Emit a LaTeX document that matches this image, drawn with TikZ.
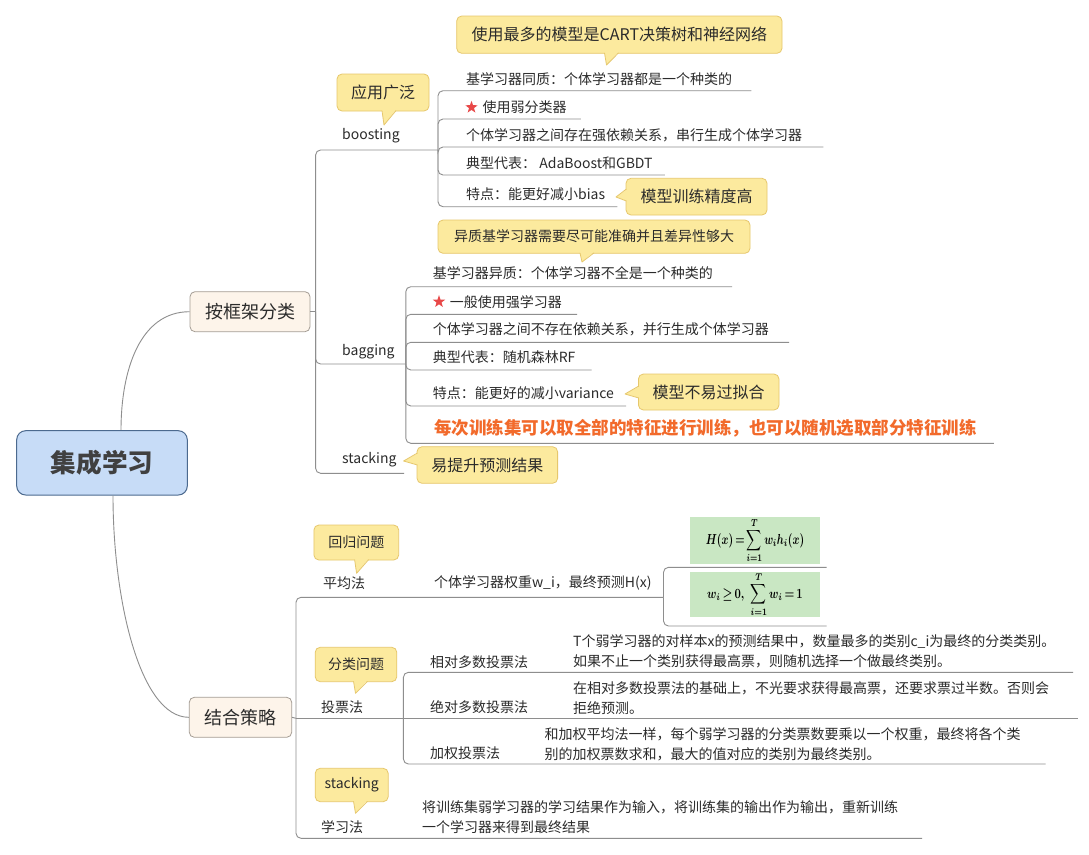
\documentclass[tikz,border=0pt]{standalone}
\usepackage{graphicx}
\usepackage{fontspec}
\setmainfont{Noto Sans CJK SC}
\usetikzlibrary{shapes.geometric}
\definecolor{linegray}{HTML}{8E8E8E}
\definecolor{textc}{HTML}{2B2B2B}
\definecolor{callfill}{HTML}{FCEA9E}
\definecolor{callborder}{HTML}{E6C76C}
\definecolor{beigefill}{HTML}{FDF4EA}
\definecolor{beigeborder}{HTML}{A59D94}
\definecolor{rootfill}{HTML}{C7DCF7}
\definecolor{rootborder}{HTML}{4C6A8F}
\definecolor{greenfill}{HTML}{C9E7C3}
\definecolor{redtext}{HTML}{F26A2B}
\definecolor{starred}{HTML}{E84848}
\newcommand\ptrdown[3]{%
  \fill[callfill] (#1-2,#2-1.5) -- (#1,#3) -- (#1+12,#2-1.5) -- cycle;
  \draw[callborder,line width=0.8pt,line join=round] (#1-2,#2-0.4) -- (#1,#3) -- (#1+12,#2-0.4);}
\newcommand\ptrleft[3]{%
  \fill[callfill] (#1+1.5,#3-8) -- (#2,#3) -- (#1+1.5,#3+4) -- cycle;
  \draw[callborder,line width=0.8pt,line join=round] (#1+0.4,#3-8) -- (#2,#3) -- (#1+0.4,#3+4);}
\newsavebox\myformA
\newsavebox\myformB
\begin{document}
\sbox\myformA{\scalebox{1.05}[1.45]{\boldmath\fontsize{10}{12}\selectfont\boldmath\thickmuskip=3mu$\displaystyle H(x)=\sum_{i=1}^{T} w_i h_i(x)$}}%
\sbox\myformB{\scalebox{1.1}[1.4]{\boldmath\fontsize{10}{12}\selectfont\boldmath\thickmuskip=3mu$\displaystyle w_i\geq 0,\;\; \sum_{i=1}^{T} w_i=1$}}%
\begin{tikzpicture}[x=1pt,y=-1pt,
  conn/.style={draw=linegray,line width=0.9pt,rounded corners=5pt},
  txt/.style={anchor=west,inner sep=0pt,text=textc,font=\fontsize{14}{16}\selectfont},
  desc/.style={anchor=west,inner sep=0pt,text=textc,align=left,font=\fontsize{14}{20}\selectfont},
  callbox/.style={draw=callborder,fill=callfill,line width=0.8pt,rounded corners=5pt,inner sep=0pt,text=textc},
  cbig/.style={callbox,font=\fontsize{16}{18}\selectfont},
  csmall/.style={callbox,font=\fontsize{14}{16}\selectfont},
  topic/.style={draw=beigeborder,fill=beigefill,line width=0.8pt,rounded corners=5pt,inner sep=0pt,text=textc,font=\fontsize{18}{20}\selectfont},
  rootbox/.style={draw=rootborder,fill=rootfill,line width=1pt,rounded corners=9pt,inner sep=0pt,text=textc!90,font=\fontsize{25.6}{28}\selectfont\bfseries},
  starmark/.style={star,star points=5,star point ratio=2.5,fill=starred,inner sep=0pt,minimum size=13pt},
  formulabox/.style={fill=greenfill,inner sep=0pt}
]
\useasboundingbox (0,0) rectangle (1089,854);
\fill[white] (0,0) rectangle (1089,854);

% ---------- main topics ----------
\node[rootbox,minimum width=170.6pt,minimum height=64.3pt] (root) at (102,462.85) {集成学习};
\node[topic,minimum width=120pt,minimum height=40pt] (kj) at (250,311.7) {按框架分类};
\node[topic,minimum width=102.4pt,minimum height=40pt] (jc) at (240.5,717.3) {结合策略};
\draw[linegray,line width=0.9pt] ([xshift=19pt]root.north) .. controls (121,370) and (140,311.7) .. (kj.west);
\draw[linegray,line width=0.9pt] ([xshift=11pt]root.south) .. controls (113,600) and (140,717.3) .. (jc.west);

% ---------- framework bracket ----------
\coordinate (j0) at (315.6,311.7);
\coordinate (jb) at (438,150);
\coordinate (jg) at (405.8,364);
\coordinate (js) at (404,473.3);
\draw[conn] (kj.east) -- (j0);
\draw[conn] (j0) |- (jb);
\draw[conn] (j0) |- (jg);
\draw[conn] (j0) |- (js);
\node[txt] (boosting) at (342,136) {boosting};
\node[txt] (bagging) at (342,351.7) {bagging};
\node[txt] (stacking) at (342,460) {stacking};

% ---------- boosting ----------
\node[txt] (b1) at (466,79) {基学习器同质：个体学习器都是一个种类的};
\node[starmark] (s1) at (471.5,107.3) {};
\node[txt] (b2) at (482.5,107.3) {使用弱分类器};
\node[txt] (b3) at (466,135) {个体学习器之间存在强依赖关系，串行生成个体学习器};
\node[txt] (b4) at (466,163.3) {典型代表： AdaBoost和GBDT};
\node[txt] (b5) at (466,194) {特点：能更好减小bias};
\draw[conn] (jb) |- ([xshift=19pt,yshift=-11.7pt]b1.east);
\draw[conn] (jb) |- ([xshift=14pt,yshift=-11.7pt]b2.east);
\draw[conn] (jb) |- ([xshift=21pt,yshift=-12pt]b3.east);
\draw[conn] (jb) |- ([xshift=12pt,yshift=-11.7pt]b4.east);
\draw[conn] (jb) |- ([xshift=12pt,yshift=-12.7pt]b5.east);

\node[cbig,minimum width=325.3pt,minimum height=37.3pt] (cA) at (619.35,34.65) {使用最多的模型是CART决策树和神经网络};
\ptrdown{606.5}{53.3}{65}
\node[cbig,minimum width=92pt,minimum height=37pt] (cB) at (383,92.5) {应用广泛};
\ptrdown{384}{111}{125}
\node[cbig,minimum width=141pt,minimum height=36.7pt] (cC) at (696.5,196.65) {模型训练精度高};
\ptrleft{626}{616}{197}

% ---------- bagging ----------
\node[txt] (g1) at (432.6,273.3) {基学习器异质：个体学习器不全是一个种类的};
\node[starmark] (s2) at (439,301.7) {};
\node[txt] (g2) at (449.6,301.7) {一般使用强学习器};
\node[txt] (g3) at (432.6,329) {个体学习器之间不存在依赖关系，并行生成个体学习器};
\node[txt] (g4) at (432.6,356.7) {典型代表：随机森林RF};
\node[txt] (g5) at (432.6,393.3) {特点：能更好的减小variance};
\node[txt,text=redtext,font=\fontsize{17.5}{20}\selectfont\bfseries] (g6) at (434,428.3) {每次训练集可以取全部的特征进行训练，也可以随机选取部分特征训练};
\draw[conn] (jg) |- ([xshift=19pt,yshift=-13.4pt]g1.east);
\draw[conn] (jg) |- ([xshift=15pt,yshift=-12.6pt]g2.east);
\draw[conn] (jg) |- ([xshift=20pt,yshift=-13.3pt]g3.east);
\draw[conn] (jg) |- ([xshift=16pt,yshift=-13.3pt]g4.east);
\draw[conn] (jg) |- ([xshift=12pt,yshift=-12.7pt]g5.east);
\draw[conn] (jg) |- ([xshift=17pt,yshift=-15pt]g6.east);

\node[csmall,minimum width=312pt,minimum height=33.3pt] (cD) at (594,236.65) {异质基学习器需要尽可能准确并且差异性够大};
\ptrdown{582}{253.3}{262}
\node[cbig,minimum width=140.6pt,minimum height=36pt] (cE) at (708.7,392) {模型不易过拟合};
\ptrleft{638.4}{625}{394}
\node[cbig,minimum width=140.6pt,minimum height=36.6pt] (cF) at (487.3,465) {易提升预测结果};
\ptrleft{417}{403.6}{461}

% ---------- combination strategies ----------
\coordinate (j1) at (296,718.3);
\coordinate (jf) at (663.5,597.3);
\coordinate (jv) at (403.4,718.3);
\coordinate (fe1) at (826.6,567.3);
\coordinate (fe2) at (826.6,626);
\coordinate (ve1) at (1073,672.3);
\coordinate (ve2) at (1078,718.3);
\coordinate (ve3) at (1045.7,764);
\coordinate (le) at (922,838.3);
\draw[conn] (jc.east) -- (j1);
\draw[conn] (j1) |- (jf);
\draw[conn] (jf) |- (fe1);
\draw[conn] (jf) |- (fe2);
\draw[conn] (j1) -- (jv);
\draw[conn] (jv) |- (ve1);
\draw[conn] (jv) -- (ve2);
\draw[conn] (jv) |- (ve3);
\draw[conn] (j1) |- (le);

\node[txt] (pj) at (323,583.3) {平均法};
\node[txt] (pjd) at (433.8,583.3) {个体学习器权重w\_i，最终预测H(x)};
\node[formulabox,minimum width=130pt,minimum height=46.5pt] (fa) at (755,540.7) {\usebox\myformA};
\node[formulabox,minimum width=130pt,minimum height=45pt] (fb) at (755,594.5) {\usebox\myformB};

\node[txt] (tp) at (321,707.3) {投票法};
\node[txt] (v1) at (430,661.7) {相对多数投票法};
\node[txt] (v2) at (430,707.3) {绝对多数投票法};
\node[txt] (v3) at (430,753.3) {加权投票法};
\node[desc] (d1) at (573,651.7) {T个弱学习器的对样本x的预测结果中，数量最多的类别c\_i为最终的分类类别。\\如果不止一个类别获得最高票，则随机选择一个做最终类别。};
\node[desc] (d2) at (573,698) {在相对多数投票法的基础上，不光要求获得最高票，还要求票过半数。否则会\\拒绝预测。};
\node[desc] (d3) at (544.4,744.2) {和加权平均法一样，每个弱学习器的分类票数要乘以一个权重，最终将各个类\\别的加权票数求和，最大的值对应的类别为最终类别。};

\node[txt] (xx) at (321,826.7) {学习法};
\node[desc] (d4) at (422,817.5) {将训练集弱学习器的学习结果作为输入，将训练集的输出作为输出，重新训练\\一个学习器来得到最终结果};

\node[csmall,minimum width=84.8pt,minimum height=35pt] (cG) at (356.3,542.5) {回归问题};
\ptrdown{356.6}{560}{573.3}
\node[csmall,minimum width=81.6pt,minimum height=34.4pt] (cH) at (356,664.5) {分类问题};
\ptrdown{355.5}{681.7}{693.3}
\node[csmall,minimum width=73pt,minimum height=33.4pt] (cI) at (351.7,785) {stacking};
\ptrdown{355.5}{801.7}{813.3}
\end{tikzpicture}
\end{document}
